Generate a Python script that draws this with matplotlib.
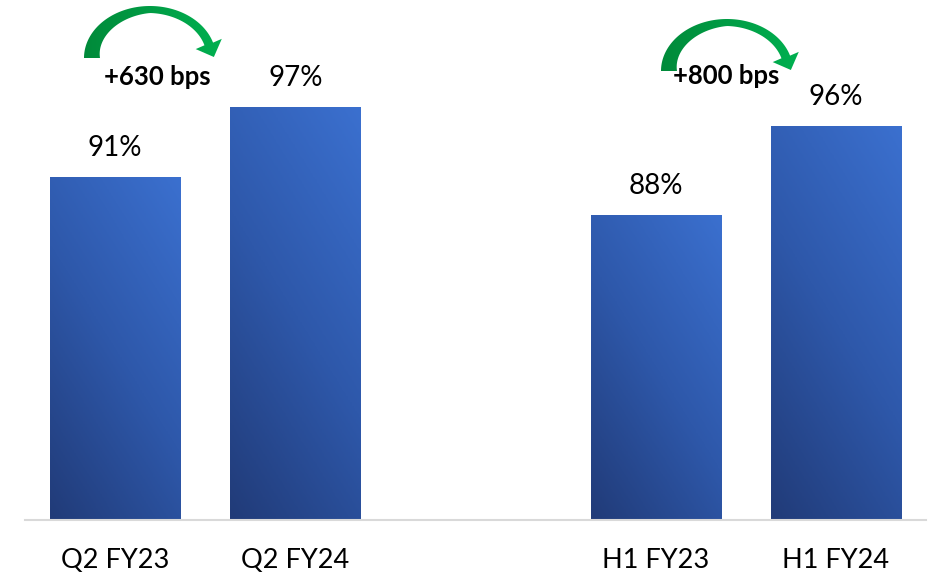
import matplotlib
matplotlib.use("Agg")
import matplotlib.pyplot as plt
import numpy as np
from matplotlib.colors import LinearSegmentedColormap
from matplotlib.patches import Polygon

# data
categories = ["Q2 FY23", "Q2 FY24", "H1 FY23", "H1 FY24"]
values = [90.9, 97.2, 87.5, 95.5]
value_labels = ["91%", "97%", "88%", "96%"]
positions = [0, 1, 3, 4]
changes = ["+630 bps", "+800 bps"]

plt.rcParams['font.family'] = ['Lato', 'DejaVu Sans']

W, H = 929, 578
fig = plt.figure(figsize=(W / 100, H / 100), dpi=100)
ax = fig.add_axes([25 / W, 58 / H, 901 / W, 520 / H])
ymin, ymax = 60, 60 + 520 / 11.1
bar_w = 0.722

bar_cmap = LinearSegmentedColormap.from_list("bars", ["#213B78", "#2E58AA", "#3B70CF"])
bars = ax.bar(positions, values, width=bar_w, color="none", edgecolor="none", zorder=2)

# diagonal gradient in each bar (dark bottom-left -> light top-right)
px_per_x = 901 / 5.0
px_per_y = 11.1
for b, v in zip(bars, values):
    x0 = b.get_x()
    x1 = x0 + b.get_width()
    wpx = b.get_width() * px_per_x * 1.6
    hpx = (v - ymin) * px_per_y
    u, w = np.meshgrid(np.linspace(0, 1, 60), np.linspace(0, 1, 200))
    grad = (u * wpx + w * hpx) / (wpx + hpx)
    im = ax.imshow(grad, extent=[x0, x1, ymin, v], origin="lower", cmap=bar_cmap,
                   aspect="auto", vmin=0, vmax=1, zorder=2)
    im.set_clip_path(b)

for x, v, lab in zip(positions, values, value_labels):
    ax.annotate(lab, (x, v), xytext=(0, 21), textcoords="offset points",
                ha="center", va="center", fontsize=20, color="#000000")

ax.set_xlim(-0.5, 4.5)
ax.set_ylim(ymin, ymax)
ax.set_xticks(positions)
ax.set_xticklabels(categories, fontsize=19.5)
ax.tick_params(axis="x", length=0, pad=20)
ax.set_yticks([])
for s in ["top", "right", "left"]:
    ax.spines[s].set_visible(False)
ax.spines["bottom"].set_color("#D9D9D9")
ax.spines["bottom"].set_linewidth(1.5)

# overlay in pixel coordinates for the curved green arrows
ov = fig.add_axes([0, 0, 1, 1])
ov.set_xlim(0, W)
ov.set_ylim(H, 0)
ov.axis("off")
ov.patch.set_alpha(0)

green = LinearSegmentedColormap.from_list("green", ["#008A3A", "#00B050"])


def curved_arrow(dx, dy):
    cx, cy, rx, ry = 150 + dx, 58 + dy, 66, 52
    a = np.linspace(np.pi, 0.3, 80)
    t = np.interp(a, [0.3, np.pi / 2, np.pi], [9, 7, 16])
    outer = np.column_stack([cx + rx * np.cos(a), cy - ry * np.sin(a)])
    inner = np.column_stack([cx + (rx - t) * np.cos(a), cy - (ry - t) * np.sin(a)])
    mid = (outer[-1] + inner[-1]) / 2
    tang = np.array([rx * np.sin(0.3), ry * np.cos(0.3)])
    tang /= np.linalg.norm(tang)
    perp = np.array([tang[1], -tang[0]])
    b1 = mid + perp * 14
    b2 = mid - perp * 14
    tip = mid + tang * 14
    pts = np.vstack([outer, b1, tip, b2, inner[::-1]])
    poly = Polygon(pts, closed=True, facecolor="none", edgecolor="none")
    ov.add_patch(poly)
    xs, ys = pts[:, 0], pts[:, 1]
    g = np.tile(np.linspace(0, 1, 100), (10, 1))
    im = ov.imshow(g, extent=[xs.min(), xs.max(), ys.max(), ys.min()], cmap=green,
                   aspect="auto", origin="upper")
    im.set_clip_path(poly)


curved_arrow(0, 0)
curved_arrow(577, 13)
ov.set_xlim(0, W)
ov.set_ylim(H, 0)

ov.text(157, 77, changes[0], ha="center", va="center", fontsize=18.5,
        fontweight="bold", color="#000000")
ov.text(726, 76, changes[1], ha="center", va="center", fontsize=18.5,
        fontweight="bold", color="#000000")

fig.savefig("out.png", dpi=100, facecolor="white")
